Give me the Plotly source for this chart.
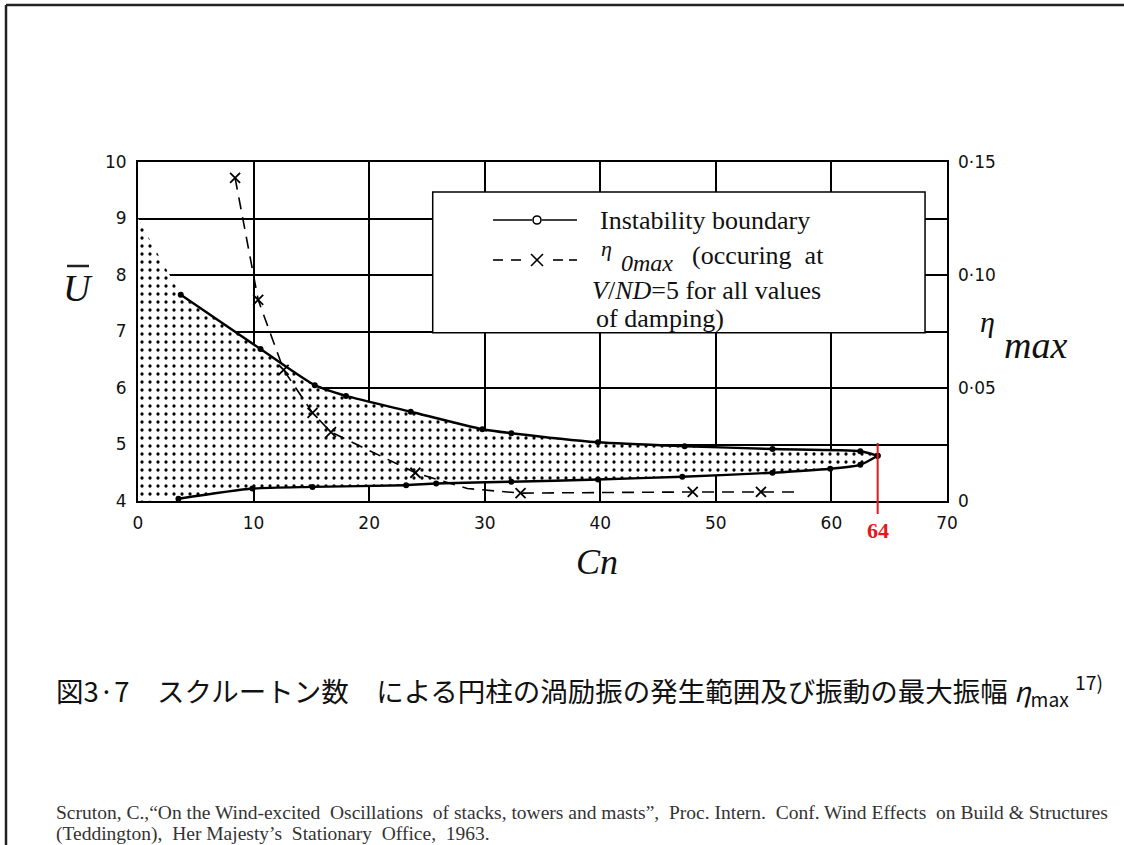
import plotly.graph_objects as go

W, H = 1124, 845

# ---------------- data ----------------
upper_cn = [3.7, 10.6, 15.3, 18.0, 23.6, 29.8, 32.3, 39.8, 47.3, 54.9, 62.5, 64.0]
upper_u = [7.65, 6.69, 6.05, 5.86, 5.58, 5.27, 5.20, 5.04, 4.97, 4.92, 4.88, 4.80]
lower_cn = [3.5, 9.9, 15.1, 23.2, 25.8, 32.3, 39.8, 47.1, 54.9, 59.9, 62.5, 64.0]
lower_u = [4.04, 4.22, 4.25, 4.28, 4.31, 4.34, 4.38, 4.43, 4.50, 4.57, 4.64, 4.80]
region_top_u = 9.0      # shaded region starts at Cn = 0, U = 9 ... 4
region_bottom_u = 4.0

eta_cn = [8.4, 10.4, 12.6, 15.1, 16.7, 24.0, 28.5, 33.1, 48.0, 53.9, 57.0]
eta_val = [0.143, 0.089, 0.058, 0.039, 0.0305, 0.0125, 0.0055, 0.0035, 0.004, 0.004, 0.004]
eta_marked = [0, 1, 2, 3, 4, 5, 7, 8, 9]   # points drawn with an x

critical_cn = 64
x_ticks = [0, 10, 20, 30, 40, 50, 60, 70]
y_ticks = [4, 5, 6, 7, 8, 9, 10]
eta_ticks = [0, 0.05, 0.10, 0.15]
eta_ticktext = ["0", "0·05", "0·10", "0·15"]

# ---------------- helpers ----------------
def px(x):
    return x / W

def py(y):
    return 1 - y / H

SERIF = "Liberation Serif"
SANS = "DejaVu Sans"

fig = go.Figure()

# shaded instability region
fill_x = [0.0] + upper_cn + lower_cn[::-1] + [0.0]
fill_y = [region_top_u] + upper_u + lower_u[::-1] + [region_bottom_u]
fig.add_trace(go.Scatter(
    x=fill_x, y=fill_y, mode="lines", fill="toself",
    line=dict(width=0, color="rgba(0,0,0,0)"),
    fillcolor="white",
    fillpattern=dict(shape=".", fgcolor="black", fgopacity=1, bgcolor="white", size=8, solidity=0.13),
    hoverinfo="skip", showlegend=False,
))

# instability boundary (upper and lower)
for xs, ys in ((upper_cn, upper_u), (lower_cn, lower_u)):
    fig.add_trace(go.Scatter(
        x=xs, y=ys, mode="lines+markers",
        line=dict(color="black", width=2.4, shape="spline", smoothing=0.6),
        marker=dict(symbol="circle", size=6, color="black"),
        showlegend=False,
    ))

# eta_0max dashed line (right axis)
fig.add_trace(go.Scatter(
    x=eta_cn, y=eta_val, yaxis="y2", mode="lines",
    line=dict(color="black", width=1.6, dash="12px,8px"),
    showlegend=False,
))
fig.add_trace(go.Scatter(
    x=[eta_cn[i] for i in eta_marked], y=[eta_val[i] for i in eta_marked],
    yaxis="y2", mode="markers",
    marker=dict(symbol="x-thin", size=10, line=dict(width=1.8, color="black")),
    showlegend=False,
))

shapes = []
# critical Cn marker (red line)
shapes.append(dict(type="line", xref="x", yref="paper", x0=critical_cn, x1=critical_cn,
                   y0=py(443), y1=py(514), line=dict(color="#e3191c", width=2), layer="above"))
# legend box covering gridlines
shapes.append(dict(type="rect", xref="x", yref="y", x0=25.5, x1=68.1, y0=6.98, y1=9.47,
                   fillcolor="white", line=dict(color="black", width=1.5), layer="between"))
# legend samples
shapes.append(dict(type="line", xref="paper", yref="paper", x0=px(493), x1=px(532), y0=py(220), y1=py(220),
                   line=dict(color="black", width=1.6)))
shapes.append(dict(type="line", xref="paper", yref="paper", x0=px(542), x1=px(577), y0=py(220), y1=py(220),
                   line=dict(color="black", width=1.6)))
shapes.append(dict(type="circle", xref="paper", yref="paper", x0=px(533), x1=px(541), y0=py(224), y1=py(216),
                   line=dict(color="black", width=1.6), fillcolor="white"))
for a, b in ((493, 503), (511, 521), (553, 563), (569, 577)):
    shapes.append(dict(type="line", xref="paper", yref="paper", x0=px(a), x1=px(b), y0=py(260), y1=py(260),
                       line=dict(color="black", width=1.6)))
shapes.append(dict(type="line", xref="paper", yref="paper", x0=px(531), x1=px(543), y0=py(254), y1=py(266),
                   line=dict(color="black", width=1.6)))
shapes.append(dict(type="line", xref="paper", yref="paper", x0=px(531), x1=px(543), y0=py(266), y1=py(254),
                   line=dict(color="black", width=1.6)))
# page frame
shapes.append(dict(type="line", xref="paper", yref="paper", x0=px(6), x1=1, y0=py(5), y1=py(5),
                   line=dict(color="#222", width=2.5)))
shapes.append(dict(type="line", xref="paper", yref="paper", x0=px(6), x1=px(6), y0=0, y1=py(5),
                   line=dict(color="#222", width=2.5)))
# bar over U
shapes.append(dict(type="line", xref="paper", yref="paper", x0=px(67), x1=px(89), y0=py(266), y1=py(266),
                   line=dict(color="#222", width=2.5)))

ann = []
def text(x, y, t, size, font=SERIF, color="#111", xanchor="left", yanchor="middle", xref="paper"):
    ann.append(dict(x=x, y=y, xref=xref, yref="paper", text=t, showarrow=False,
                    xanchor=xanchor, yanchor=yanchor, font=dict(family=font, size=size, color=color)))

text(px(598), py(221), "Instability boundary", 26)
text(px(614), py(248), "<i>η</i>", 22, xanchor="right")
text(px(619), py(263), "<i>0max</i>", 24)
text(px(690), py(255), "(occuring  at", 26)
text(px(590), py(290), "<i>V</i>/<i>ND</i>=5 for all values", 26)
text(px(594), py(318), "of damping)", 26)

text(px(78), py(288), "<i>U</i>", 38, xanchor="center")
text(px(597), py(562), "<i>Cn</i>", 36, xanchor="center")
text(px(988), py(321), "<i>η</i>", 30, xanchor="center")
text(px(1002), py(345), "<i>max</i>", 38)
text(critical_cn, py(530), "<b>64</b>", 22, color="#e3191c", xanchor="center", xref="x")

text(px(54), py(690),
     "図3·7　スクルートン数　による円柱の渦励振の発生範囲及び振動の最大振幅 <i>η</i><sub>max</sub> <sup>17)</sup>",
     27.5, font="Noto Sans CJK JP")
text(px(54), py(812),
     "Scruton, C.,“On the Wind-excited  Oscillations  of stacks, towers and masts”,  Proc. Intern.  Conf. Wind Effects  on Build &amp; Structures",
     19.5, color="#333")
text(px(54), py(834), "(Teddington),  Her Majesty’s  Stationary  Office,  1963.", 19.5, color="#333")

axis_common = dict(showline=True, linecolor="black", linewidth=2, mirror=True,
                   showgrid=True, gridcolor="black", gridwidth=1.5, zeroline=False,
                   ticks="", tickfont=dict(family=SANS, size=17, color="#111"), automargin=False)

fig.update_layout(
    width=W, height=H,
    margin=dict(l=0, r=0, t=0, b=0, pad=0),
    paper_bgcolor="white", plot_bgcolor="white",
    xaxis=dict(domain=[138 / W, 947 / W], range=[0, 70], tickvals=x_ticks,
               ticklabelstandoff=6, **axis_common),
    yaxis=dict(domain=[1 - 501 / H, 1 - 162 / H], range=[4, 10], tickvals=y_ticks,
               ticklabelstandoff=6, **axis_common),
    yaxis2=dict(overlaying="y", side="right", range=[0, 0.15], tickvals=eta_ticks,
                ticktext=eta_ticktext, showgrid=False, showline=False, zeroline=False,
                ticks="", ticklabelstandoff=10, automargin=False,
                tickfont=dict(family=SANS, size=17, color="#111")),
    shapes=shapes,
    annotations=ann,
    showlegend=False,
)

fig.write_html("out.html")
